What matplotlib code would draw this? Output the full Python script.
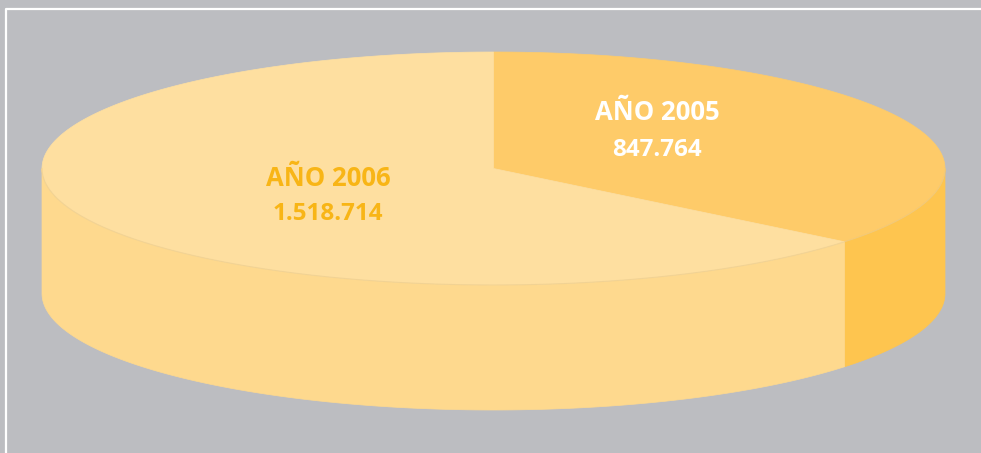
import matplotlib
matplotlib.use("Agg")
import matplotlib.pyplot as plt
from matplotlib.patches import Polygon
import numpy as np

# data
years = ["AÑO 2005", "AÑO 2006"]
values = [847764, 1518714]
value_labels = ["847.764", "1.518.714"]

top_colors = ["#FECB69", "#FEDFA0"]
side_colors = ["#FEC54F", "#FED98E"]
text_colors = ["#FFFFFF", "#F8B516"]
label_pos = [(657, 113, 150), (328, 179, 214)]

bg = "#BCBDC1"
cx, cy = 493.5, 168.5
a, b = 451.5, 116.5
depth = 125


def ell(theta):
    t = np.radians(theta)
    return cx + a * np.cos(t), cy - b * np.sin(t)


fig = plt.figure(figsize=(9.81, 4.53), dpi=100)
fig.patch.set_facecolor(bg)
ax = fig.add_axes([0, 0, 1, 1])
ax.set_xlim(0, 981)
ax.set_ylim(453, 0)
ax.axis('off')

# white frame (top + left)
ax.plot([6, 6, 981], [453, 8.5, 8.5], color="white", lw=1.6, solid_capstyle='butt')

fracs = np.asarray(values, float) / sum(values)
starts = 90 - 360 * np.concatenate([[0], np.cumsum(fracs)[:-1]])
ends = starts - 360 * fracs

# sides (front half only: angles in [-180, 0])
for s, e, col in zip(starts, ends, side_colors):
    for shift in (0, -360, 360):
        lo, hi = max(e + shift, -180), min(s + shift, 0)
        if hi > lo:
            th = np.linspace(lo, hi, 200)
            x, y = ell(th)
            pts = np.column_stack([np.r_[x, x[::-1]], np.r_[y, y[::-1] + depth]])
            ax.add_patch(Polygon(pts, closed=True, fc=col, ec=col, lw=0.5))

# tops
for s, e, col in zip(starts, ends, top_colors):
    th = np.linspace(s, e, 400)
    x, y = ell(th)
    pts = np.column_stack([np.r_[cx, x], np.r_[cy, y]])
    ax.add_patch(Polygon(pts, closed=True, fc=col, ec=col, lw=0.5))

# subtle rim along the front edge
th = np.linspace(-180, 0, 400)
x, y = ell(th)
ax.plot(x, y, color="#E8C98A", lw=0.8, alpha=0.5)

for (tx, ty1, ty2), yr, vl, tc in zip(label_pos, years, value_labels, text_colors):
    ax.text(tx, ty1, yr, ha='center', va='center', color=tc, fontsize=18.5,
            fontweight='bold', family=['Open Sans', 'DejaVu Sans'])
    ax.text(tx, ty2, vl, ha='center', va='center', color=tc, fontsize=17.5,
            fontweight='bold', family=['Open Sans', 'DejaVu Sans'])

fig.savefig("out.png", dpi=100, facecolor=bg)
